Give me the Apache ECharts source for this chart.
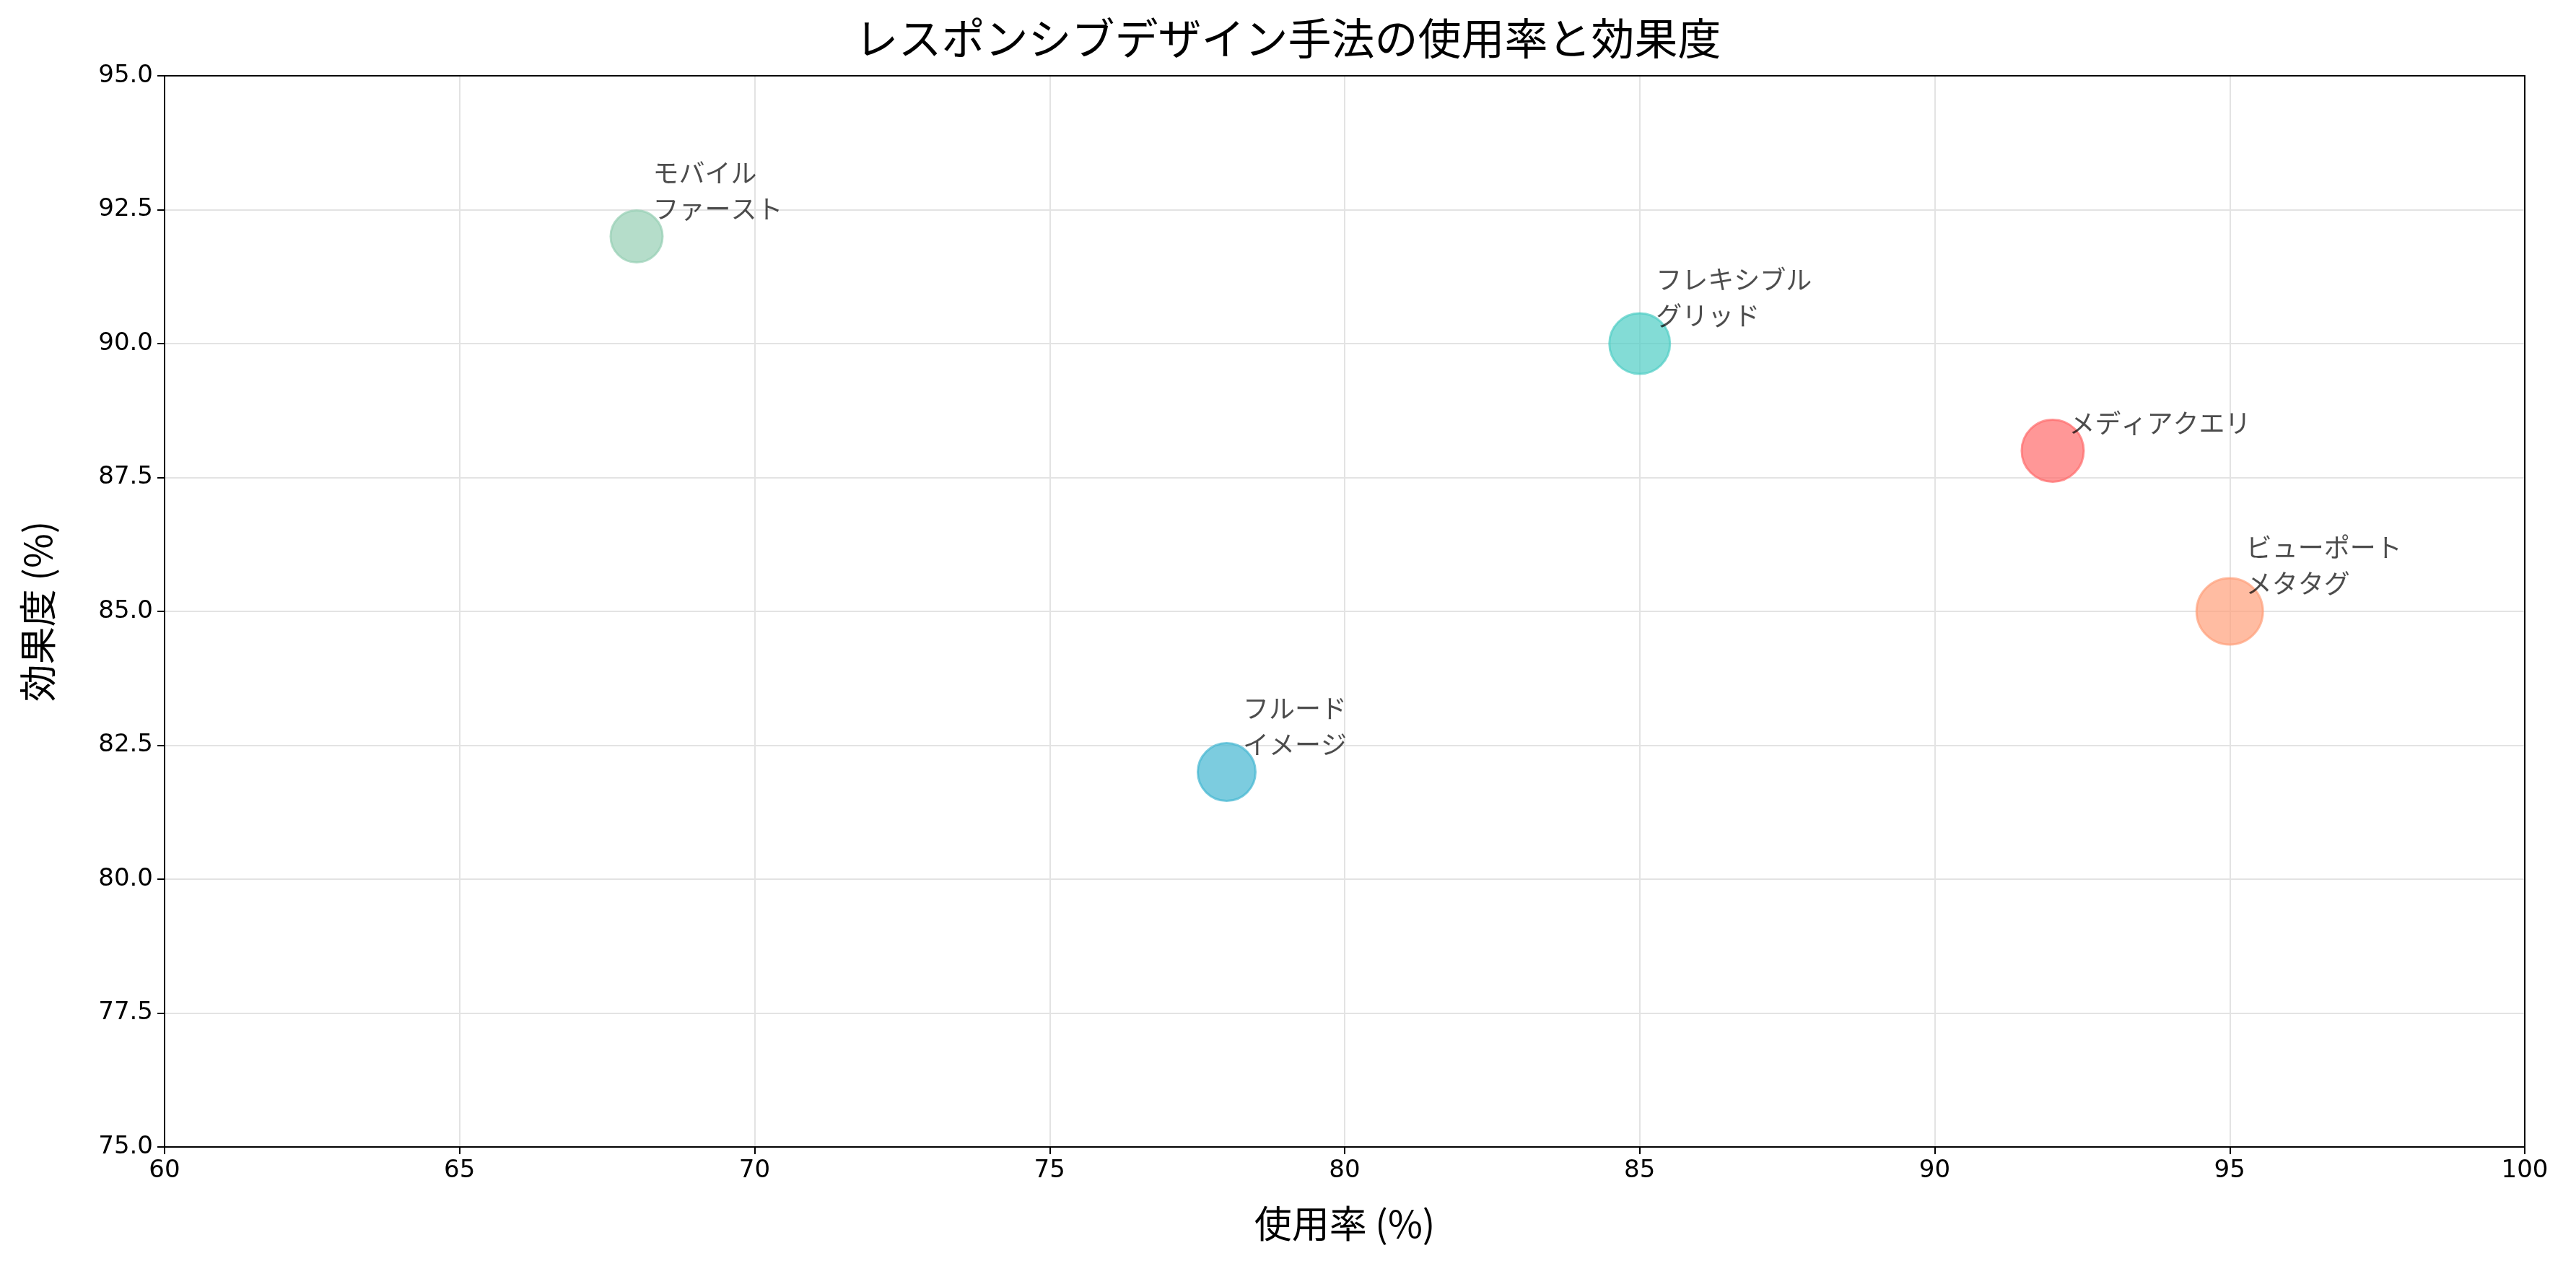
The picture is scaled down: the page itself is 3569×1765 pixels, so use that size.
<!DOCTYPE html>
<html>
<head>
<meta charset="UTF-8">
<style>
  html, body { margin: 0; padding: 0; background: #fff; }
  #chart { width: 3569px; height: 1765px; }
</style>
<script src="https://cdn.jsdelivr.net/npm/echarts@6/dist/echarts.min.js"></script>
</head>
<body>
<div id="chart"></div>
<script>
// 手法ごとのデータ
var names = ['メディアクエリ', 'フレキシブル\nグリッド', 'フルード\nイメージ', 'モバイル\nファースト', 'ビューポート\nメタタグ'];
var usage = [92, 85, 78, 68, 95];
var effect = [88, 90, 82, 92, 85];
var sizes = [86, 84, 80, 72, 92];
var colors = ['#ff6b6b', '#4ecdc4', '#45b7d1', '#96ceb4', '#ffa07a'];

var font = 'Noto Sans CJK JP';

var bubbles = names.map(function (n, i) {
    var r = sizes[i] / 2;
    return {
        name: n,
        value: [usage[i], effect[i]],
        symbolSize: sizes[i],
        itemStyle: { color: colors[i], opacity: 0.7, borderColor: colors[i], borderWidth: 3 },
        label: { position: [r + 24, r - 12] }
    };
});

var frame = {
    axisLine: { show: true, lineStyle: { color: '#000', width: 2 } },
    axisTick: { show: false }, axisLabel: { show: false }, splitLine: { show: false }
};

var chart = echarts.init(document.getElementById('chart'));
chart.setOption({
    animation: false,
    textStyle: { fontFamily: font },
    title: {
        text: 'レスポンシブデザイン手法の使用率と効果度',
        left: 'center', top: 18,
        textStyle: { fontFamily: font, fontSize: 60, fontWeight: 'normal', color: '#000' }
    },
    grid: { left: 228, right: 71, top: 105, bottom: 176 },
    xAxis: [{
        type: 'value', min: 60, max: 100, interval: 5,
        name: '使用率 (%)', nameLocation: 'middle', nameGap: 80,
        nameTextStyle: { fontFamily: font, fontSize: 52, color: '#000' },
        axisLine: { show: true, lineStyle: { color: '#000', width: 2 } },
        axisTick: { show: true, length: 10, lineStyle: { color: '#000', width: 2 } },
        axisLabel: { fontSize: 34, color: '#000', margin: 16, fontFamily: 'DejaVu Sans' },
        splitLine: { show: true, lineStyle: { color: '#e3e3e3', width: 2 } }
    }, Object.assign({ type: 'value', min: 60, max: 100, position: 'top' }, frame)],
    yAxis: [{
        type: 'value', min: 75, max: 95, interval: 2.5,
        name: '効果度 (%)', nameLocation: 'middle', nameGap: 150, nameRotate: 90,
        nameTextStyle: { fontFamily: font, fontSize: 52, color: '#000' },
        axisLine: { show: true, lineStyle: { color: '#000', width: 2 } },
        axisTick: { show: true, length: 10, lineStyle: { color: '#000', width: 2 } },
        axisLabel: {
            fontSize: 34, color: '#000', margin: 16, fontFamily: 'DejaVu Sans',
            formatter: function (v) { return v.toFixed(1); }
        },
        splitLine: { show: true, lineStyle: { color: '#e3e3e3', width: 2 } }
    }, Object.assign({ type: 'value', min: 75, max: 95, position: 'right' }, frame)],
    series: [{
        type: 'scatter',
        data: bubbles,
        label: {
            show: true,
            formatter: function (p) { return p.name; },
            align: 'left',
            verticalAlign: 'bottom',
            fontFamily: font,
            fontSize: 36,
            lineHeight: 50,
            color: '#000'
        }
    }]
});
</script>
</body>
</html>
